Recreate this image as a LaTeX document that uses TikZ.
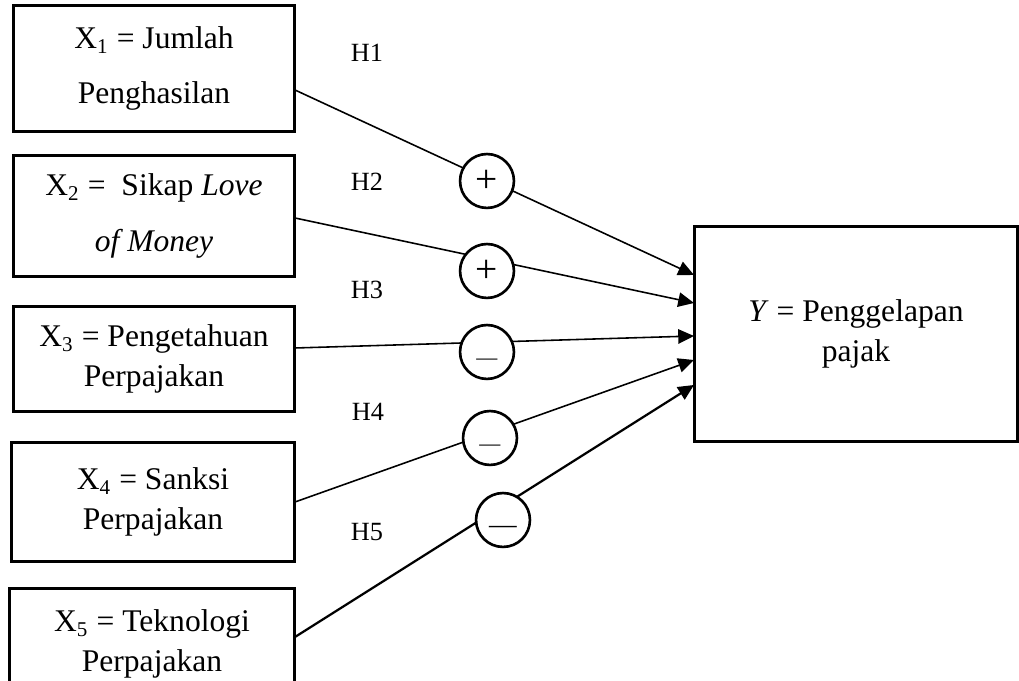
\documentclass[tikz,border=0pt]{standalone}
\usepackage{fontspec}
\setmainfont{Liberation Serif}
\usetikzlibrary{arrows.meta}
\newcommand{\minsign}[1]{\raisebox{#1}[0pt][0pt]{---}}

\begin{document}
\begin{tikzpicture}[x=0.01337cm, y=-0.01337cm,
        kotak/.style={draw, line width=1.1pt, align=center, inner sep=0pt, font=\fontsize{12}{15}\selectfont},
        tanda/.style={draw, circle, line width=1pt, fill=white, minimum size=20.5pt, inner sep=0pt, font=\fontsize{15}{17}\selectfont},
        kurang/.style={tanda, font=\fontsize{8}{10}\selectfont},
        hip/.style={font=\fontsize{10}{12}\selectfont},
        panah/.style={line width=0.6pt, -{Triangle[length=6pt, width=5.5pt]}}]
        \useasboundingbox (0,0) rectangle (1019,681);
        \clip (0,0) rectangle (1019,681);

        % Variabel independen
        \node[kotak, minimum width=107pt, minimum height=48.2pt, font=\fontsize{12}{21}\selectfont] (x1) at (154,68.5) {X\textsubscript{1} = Jumlah\\Penghasilan};
        \node[kotak, minimum width=107pt, minimum height=46.3pt, font=\fontsize{12}{21}\selectfont] (x2) at (154,216) {X\textsubscript{2} = \ Sikap \textit{Love}\\\textit{of Money}};
        \node[kotak, minimum width=107pt, minimum height=40.2pt] (x3) at (154,359) {X\textsubscript{3} = Pengetahuan\\Perpajakan};
        \node[kotak, minimum width=107.7pt, minimum height=45.5pt] (x4) at (153,502) {X\textsubscript{4} = Sanksi\\Perpajakan};
        \node[kotak, minimum width=108.5pt, minimum height=42.5pt] (x5) at (152,644) {X\textsubscript{5} = Teknologi\\Perpajakan};

        % Variabel dependen
        \node[kotak, minimum width=123pt, minimum height=82pt] (y) at (856,334) {\textit{Y} = Penggelapan\\pajak};

        % Hipotesis
        \node[hip] (h1) at (367,53) {H1};
        \node[hip] (h2) at (367,182) {H2};
        \node[hip] (h3) at (367,290) {H3};
        \node[hip] (h4) at (368,412) {H4};
        \node[hip] (h5) at (367,532) {H5};

        % Titik awal dan akhir panah
        \coordinate (s1) at (295,90);
        \coordinate (s2) at (295,218);
        \coordinate (s3) at (295,348);
        \coordinate (s4) at (295,502);
        \coordinate (s5) at (295,637);
        \coordinate (e1) at (694,275);
        \coordinate (e2) at (694,303);
        \coordinate (e3) at (694,336);
        \coordinate (e4) at (694,360);
        \coordinate (e5) at (694,385);

        % Panah X -> Y
        \draw[panah] (s1) -- (e1);
        \draw[panah] (s2) -- (e2);
        \draw[panah] (s3) -- (e3);
        \draw[panah] (s4) -- (e4);
        \draw[panah, line width=0.85pt] (s5) -- (e5);

        % Arah pengaruh
        \node[tanda] (c1) at (487,181) {+};
        \node[tanda] (c2) at (487,271) {+};
        \node[kurang] (c3) at (487,352) {\minsign{-4.7pt}};
        \node[kurang] (c4) at (490,438) {\minsign{-4.7pt}};
        \node[kurang, font=\fontsize{10.5}{12}\selectfont] (c5) at (503,520) {\minsign{-5.3pt}};
\end{tikzpicture}
\end{document}
